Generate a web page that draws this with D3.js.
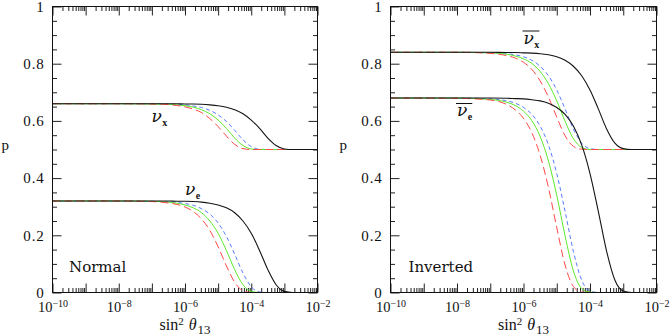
<!DOCTYPE html>
<html>
<head>
<meta charset="utf-8">
<title>p versus sin^2 theta13, normal and inverted</title>
<script src="https://cdn.jsdelivr.net/npm/d3@7/dist/d3.min.js"></script>
<style>
  body { margin: 0; background: #fff; }
</style>
</head>
<body>
<script>
var xExp = [-10, -8, -7, -6.5, -6.25, -6, -5.75, -5.5, -5.25, -5, -4.75, -4.5, -4.25, -4, -3.75, -3.5, -3.25, -3, -2.75, -2.5, -2];

// normal hierarchy
var normXRed   = [0.660, 0.660, 0.659, 0.657, 0.654, 0.649, 0.641, 0.629, 0.608, 0.580, 0.547, 0.518, 0.503, 0.500, 0.500, 0.500, 0.500, 0.500, 0.500, 0.500, 0.500];
var normXGreen = [0.660, 0.660, 0.659, 0.658, 0.656, 0.653, 0.648, 0.639, 0.625, 0.603, 0.574, 0.540, 0.514, 0.502, 0.500, 0.500, 0.500, 0.500, 0.500, 0.500, 0.500];
var normXBlue  = [0.660, 0.660, 0.660, 0.659, 0.658, 0.656, 0.652, 0.647, 0.637, 0.621, 0.598, 0.567, 0.534, 0.510, 0.501, 0.500, 0.500, 0.500, 0.500, 0.500, 0.500];
var normXBlack = [0.660, 0.660, 0.660, 0.660, 0.660, 0.659, 0.659, 0.658, 0.656, 0.653, 0.648, 0.639, 0.625, 0.603, 0.574, 0.540, 0.514, 0.502, 0.500, 0.500, 0.500];
var normERed   = [0.320, 0.320, 0.318, 0.313, 0.308, 0.299, 0.283, 0.257, 0.217, 0.160, 0.093, 0.036, 0.006, 0.000, 0, 0, 0, 0, 0, 0, 0];
var normEGreen = [0.320, 0.320, 0.319, 0.316, 0.312, 0.306, 0.296, 0.279, 0.250, 0.207, 0.147, 0.080, 0.027, 0.004, 0.000, 0, 0, 0, 0, 0, 0];
var normEBlue  = [0.320, 0.320, 0.319, 0.317, 0.315, 0.311, 0.305, 0.293, 0.274, 0.243, 0.196, 0.134, 0.068, 0.020, 0.002, 0.000, 0, 0, 0, 0, 0];
var normEBlack = [0.320, 0.320, 0.320, 0.320, 0.319, 0.319, 0.318, 0.316, 0.312, 0.306, 0.296, 0.279, 0.250, 0.207, 0.147, 0.080, 0.027, 0.004, 0.000, 0, 0];

// inverted hierarchy (antineutrinos)
var invXRed   = [0.840, 0.840, 0.836, 0.828, 0.820, 0.805, 0.780, 0.740, 0.683, 0.613, 0.548, 0.511, 0.501, 0.500, 0.500, 0.500, 0.500, 0.500, 0.500, 0.500, 0.500];
var invXGreen = [0.840, 0.840, 0.838, 0.833, 0.827, 0.817, 0.801, 0.773, 0.730, 0.670, 0.599, 0.538, 0.507, 0.500, 0.500, 0.500, 0.500, 0.500, 0.500, 0.500, 0.500];
var invXBlue  = [0.840, 0.840, 0.838, 0.835, 0.831, 0.824, 0.812, 0.791, 0.758, 0.708, 0.642, 0.572, 0.522, 0.503, 0.500, 0.500, 0.500, 0.500, 0.500, 0.500, 0.500];
var invXBlack = [0.840, 0.840, 0.840, 0.839, 0.839, 0.838, 0.837, 0.835, 0.831, 0.824, 0.812, 0.791, 0.758, 0.708, 0.642, 0.572, 0.522, 0.503, 0.500, 0.500, 0.500];
var invERed   = [0.680, 0.679, 0.673, 0.657, 0.639, 0.609, 0.559, 0.480, 0.367, 0.227, 0.096, 0.021, 0.001, 0, 0, 0, 0, 0, 0, 0, 0];
var invEGreen = [0.680, 0.680, 0.675, 0.665, 0.654, 0.634, 0.601, 0.546, 0.460, 0.340, 0.198, 0.076, 0.014, 0.001, 0, 0, 0, 0, 0, 0, 0];
var invEBlue  = [0.680, 0.680, 0.677, 0.670, 0.662, 0.647, 0.623, 0.582, 0.516, 0.416, 0.284, 0.144, 0.043, 0.005, 0.000, 0, 0, 0, 0, 0, 0];
var invEBlack = [0.680, 0.680, 0.680, 0.679, 0.678, 0.677, 0.674, 0.670, 0.662, 0.647, 0.623, 0.582, 0.516, 0.416, 0.284, 0.144, 0.043, 0.005, 0.000, 0, 0];

// axis ticks
var xMajorExp = [-10, -9, -8, -7, -6, -5, -4, -3, -2];
var xLabelExp = [-10, -8, -6, -4, -2];
var yMajor = [0, 0.2, 0.4, 0.6, 0.8, 1];
var yMinor = [0.05, 0.1, 0.15, 0.25, 0.3, 0.35, 0.45, 0.5, 0.55, 0.65, 0.7, 0.75, 0.85, 0.9, 0.95];

var w = 672, h = 336;
var plotTop = 6.5, plotBottom = 292.5;
var serif = "'Liberation Serif', 'Times New Roman', serif";

var style = {
    red:   {color: "#ff4848", dash: "8,4"},
    green: {color: "#5ee82a", dash: null},
    blue:  {color: "#5a7cff", dash: "4,3"},
    black: {color: "#151515", dash: null}
};

var panels = [
    {x0: 52.5, x1: 317.5, name: "Normal", nameX: 69, bar: false,
     curves: [["blue", normXBlue], ["green", normXGreen], ["red", normXRed],
              ["blue", normEBlue], ["green", normEGreen], ["red", normERed],
              ["black", normXBlack], ["black", normEBlack]],
     labels: [{sub: "x", x: 151.5, y: 121.5}, {sub: "e", x: 185, y: 194.5}]},
    {x0: 390.5, x1: 656.5, name: "Inverted", nameX: 408.5, bar: true,
     curves: [["blue", invXBlue], ["green", invXGreen], ["red", invXRed],
              ["blue", invEBlue], ["green", invEGreen], ["red", invERed],
              ["black", invXBlack], ["black", invEBlack]],
     labels: [{sub: "x", x: 523.5, y: 43.5}, {sub: "e", x: 457, y: 116}]}
];

var svg = d3.select("body").append("svg")
    .attr("width", w)
    .attr("height", h);

// minor ticks on the log axis: 2..9 in every decade
var xMinor = [];
for (var e = -10; e < -2; e++) {
    for (var m = 2; m <= 9; m++) xMinor.push(m * Math.pow(10, e));
}

panels.forEach(function(p) {
    var x = d3.scaleLog().domain([1e-10, 1e-2]).range([p.x0, p.x1]);
    var y = d3.scaleLinear().domain([0, 1]).range([plotBottom, plotTop]);
    var g = svg.append("g");

    function tickAxis(axis, pos, vals, len) {
        var a = g.append("g").attr("transform", pos)
            .call(axis.tickValues(vals).tickSizeInner(-len).tickSizeOuter(0).tickFormat(""));
        a.select(".domain").remove();
        a.selectAll("line").attr("stroke", "#222");
        return a;
    }
    var xMaj = xMajorExp.map(function(e) { return Math.pow(10, e); });
    tickAxis(d3.axisTop(x), "translate(0," + plotTop + ")", xMaj, 9);
    tickAxis(d3.axisTop(x), "translate(0," + plotTop + ")", xMinor, 4.5);
    tickAxis(d3.axisBottom(x), "translate(0," + plotBottom + ")", xMinor, 4.5);
    tickAxis(d3.axisLeft(y), "translate(" + p.x0 + ",0)", yMinor, 4.5);
    tickAxis(d3.axisRight(y), "translate(" + p.x1 + ",0)", yMinor, 4.5);
    tickAxis(d3.axisRight(y), "translate(" + p.x1 + ",0)", yMajor, 9);

    // labelled bottom axis: 10^-n
    var xb = g.append("g").attr("transform", "translate(0," + plotBottom + ")")
        .call(d3.axisBottom(x).tickValues(xMaj).tickSizeInner(-9).tickSizeOuter(0).tickPadding(9.3));
    xb.select(".domain").remove();
    xb.selectAll("line").attr("stroke", "#222");
    xb.attr("font-family", serif).attr("font-size", 14.5);
    xb.selectAll(".tick text").each(function(d) {
        var ex = Math.round(Math.log10(d));
        var t = d3.select(this).text(null).attr("fill", "#111");
        if (xLabelExp.indexOf(ex) < 0) return;
        t.append("tspan").text("10");
        t.append("tspan").attr("dy", -4.8).attr("font-size", 10).text("\u2212" + (-ex));
    });

    // labelled left axis
    var yl = g.append("g").attr("transform", "translate(" + p.x0 + ",0)")
        .call(d3.axisLeft(y).tickValues(yMajor).tickSizeInner(-9).tickSizeOuter(0).tickPadding(8)
            .tickFormat(function(d) { return d === 0 || d === 1 ? String(d) : d3.format(".1f")(d); }));
    yl.select(".domain").remove();
    yl.selectAll("line").attr("stroke", "#222");
    yl.attr("font-family", serif).attr("font-size", 15);
    yl.selectAll("text").attr("fill", "#111").attr("letter-spacing", 0.8);

    // curves
    var line = d3.line()
        .x(function(d, i) { return x(Math.pow(10, xExp[i])); })
        .y(function(d) { return y(d); })
        .curve(d3.curveMonotoneX);

    g.selectAll("path.curve")
        .data(p.curves)
        .enter()
        .append("path")
        .attr("class", "curve")
        .attr("d", function(c) { return line(c[1]); })
        .attr("fill", "none")
        .attr("stroke", function(c) { return style[c[0]].color; })
        .attr("stroke-width", function(c) { return c[0] === "black" ? 1.1 : 1; })
        .attr("stroke-dasharray", function(c) { return style[c[0]].dash; });

    // frame
    g.append("rect")
        .attr("x", p.x0).attr("y", plotTop)
        .attr("width", p.x1 - p.x0).attr("height", plotBottom - plotTop)
        .attr("fill", "none").attr("stroke", "#111").attr("stroke-width", 1);

    // axis titles
    svg.append("text")
        .attr("x", p.x0 - 51).attr("y", 150)
        .attr("font-family", serif).attr("font-size", 15).attr("fill", "#111")
        .text("p");

    var xt = svg.append("text")
        .attr("x", (p.x0 + p.x1) / 2).attr("y", 330)
        .attr("text-anchor", "middle")
        .attr("font-family", serif).attr("font-size", 16).attr("fill", "#111");
    xt.append("tspan").text("sin");
    xt.append("tspan").attr("dy", -5.5).attr("font-size", 11).text("2");
    xt.append("tspan").attr("dy", 5.5).attr("dx", 5).attr("font-style", "italic").text("\u03b8");
    xt.append("tspan").attr("dy", 4).attr("dx", 1).attr("font-size", 13).text("13");

    // panel name
    svg.append("text")
        .attr("x", p.nameX).attr("y", 272)
        .attr("font-family", "'DejaVu Serif', serif").attr("font-size", 15).attr("fill", "#111")
        .text(p.name);

    // curve labels
    p.labels.forEach(function(l) {
        var t = svg.append("text")
            .attr("x", l.x).attr("y", l.y)
            .attr("fill", "#111");
        t.append("tspan")
            .attr("font-family", "'DejaVu Serif', serif").attr("font-style", "italic").attr("font-size", 17)
            .text("\u03bd");
        t.append("tspan")
            .attr("dy", 4).attr("dx", 0.5)
            .attr("font-family", serif).attr("font-weight", "bold").attr("font-size", 10)
            .text(l.sub);
        if (p.bar) {
            var len = t.node().getComputedTextLength();
            svg.append("line")
                .attr("x1", l.x - 1).attr("x2", l.x + len + 0.5)
                .attr("y1", l.y - 12.5).attr("y2", l.y - 12.5)
                .attr("stroke", "#111").attr("stroke-width", 1);
        }
    });
});
</script>
</body>
</html>
